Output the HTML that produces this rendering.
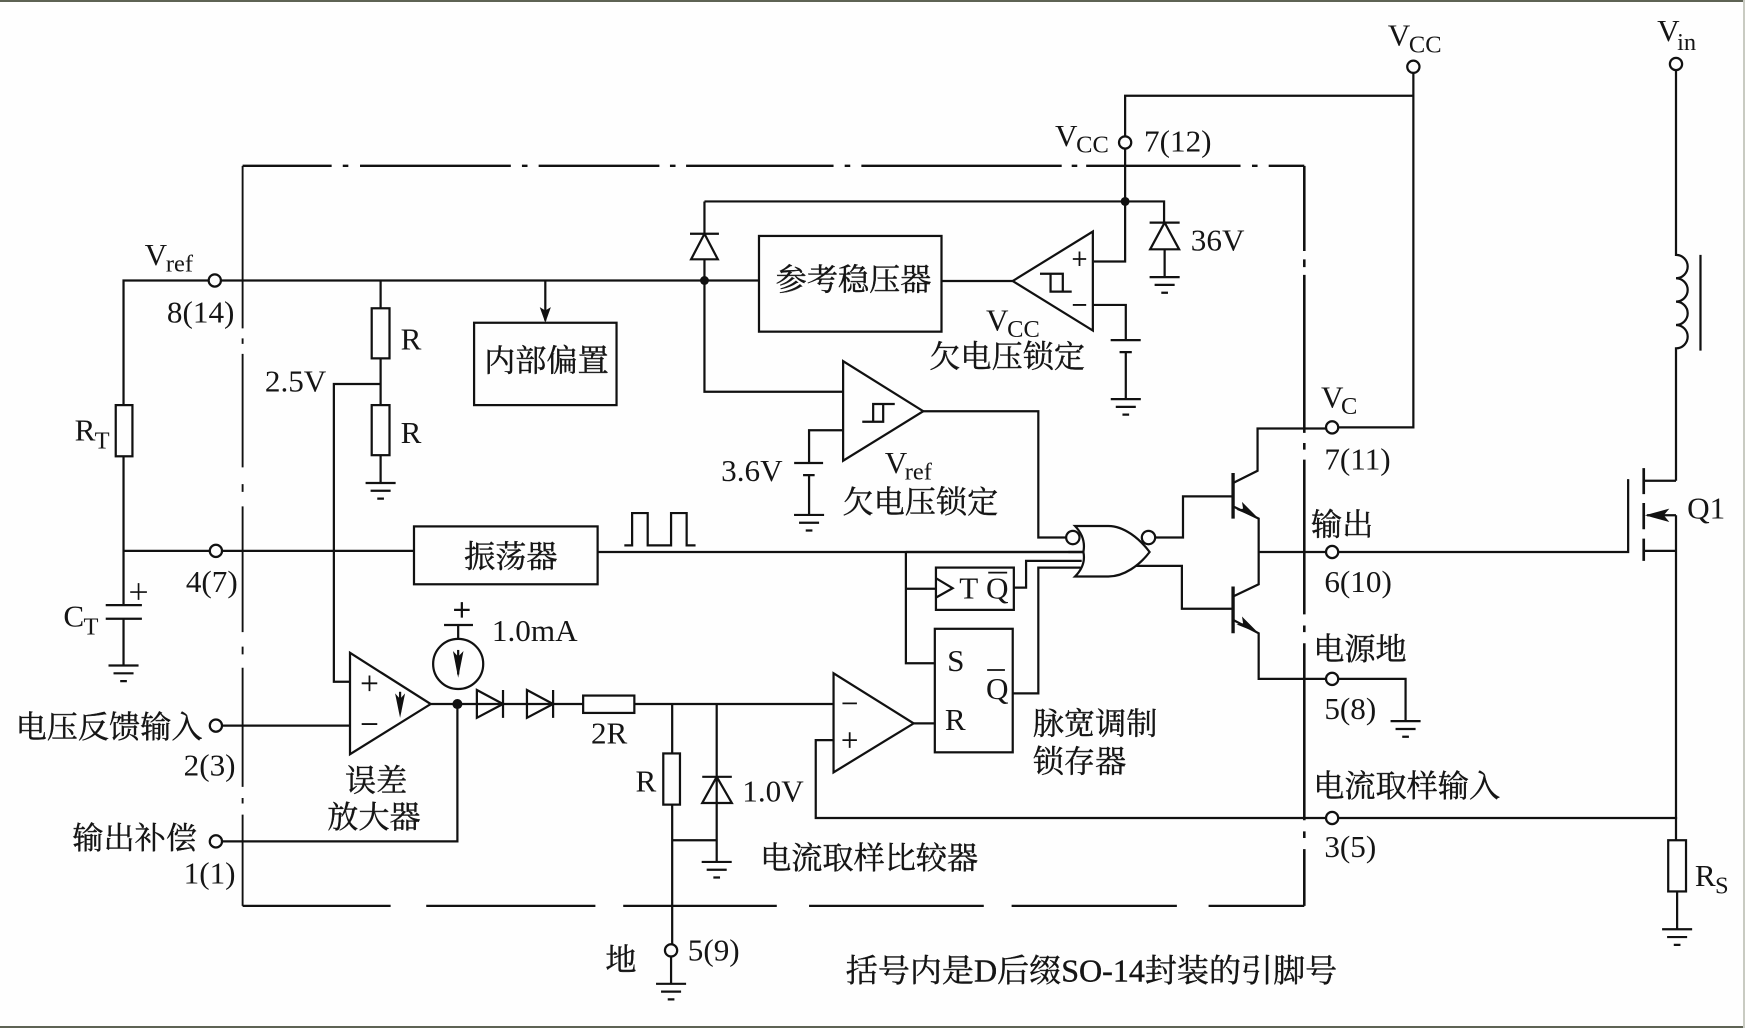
<!DOCTYPE html>
<html><head><meta charset="utf-8"><style>
html,body{margin:0;padding:0;background:#fefefe}
body{width:1745px;height:1028px;overflow:hidden;position:relative}
svg{position:absolute;left:0;top:0}
.b{position:absolute}
text{font-family:"Liberation Serif","Noto Serif CJK SC",serif;font-size:28px;fill:#151515}
.c{font-family:"Liberation Serif","Noto Serif CJK SC",serif;font-size:28px;stroke:#151515;stroke-width:.35}
.s{font-size:22px}
</style></head><body>
<svg width="1745" height="1028" viewBox="0 0 1568 923.7" xmlns="http://www.w3.org/2000/svg">
<defs>
<g id="g" fill="none" stroke="#111" stroke-width="2"><path d="M-13.5,0H13.5M-9,7H9M-3,14H3"/></g>
</defs>
<g fill="none" stroke="#111" stroke-width="2">
<!-- dash-dot enclosure -->
<path d="M218,149H298M308,149H313M323.500,149H459M469,149H474M484,149H592.500M602,149H607M616.500,149H749M759,149H764M774,149H954M963,149H968M976,149H1114.700M1125,149H1130M1140,149H1172" stroke-width="2.200"/>
<path d="M218,814H351M383,814H535M560,814H698M727,814H884M909,814H1057.500M1086,814H1172"/>
<path d="M218,149V295M218,304V309M218,318V420M218,435V442M218,455V568M218,581V588M218,600V707M218,717V722M218,732V814" stroke-width="1.700"/>
<path d="M1172,149V225.500M1172,233V240M1172,247V389M1172,398V404M1172,413V552M1172,562V568M1172,578V737M1172,747V753M1172,763V814" stroke-width="2.300"/>
<!-- VCC -->
<path d="M1270,65V384H1202M1270,86H1011V123M1011,133V235H983"/>
<path d="M633,181H1046V200"/>
<path d="M1033,200H1060M1046.5,200L1033.5,224H1059.5ZM1046.5,224V248.6"/>
<use href="#g" x="1046.5" y="249"/>
<!-- left diode -->
<path d="M633,181V210M620,210H646M633,210L621,233H645ZM633,233V352H757.5"/>
<!-- Vref line -->
<path d="M198,252H682M188,252H111V364M111,410V543.7"/>
<rect x="104" y="364" width="15" height="46"/>
<path d="M111,495H188M199,495H372"/>
<path d="M95,543.7H127.5M95,556H127.5M111,556V598"/>
<use href="#g" x="111" y="598"/>
<path d="M117,532H132M124.500,524V539" stroke-width="1.5"/>
<!-- divider -->
<path d="M342,252V277M342,322V364M342,409V434M342,345H300V612.600H314.500"/>
<rect x="334" y="277" width="16" height="45"/>
<rect x="334" y="364" width="16" height="45"/>
<use href="#g" x="342" y="434"/>
<!-- internal bias -->
<path d="M490,252V288"/>
<rect x="426" y="290" width="128" height="74"/>
<!-- ref reg -->
<rect x="682" y="212" width="164" height="86"/>
<path d="M846,252.500H910"/>
<path d="M982,208V297L910,252.500Z"/>
<path d="M964,232.700H976M970,226V239M964,274H976" stroke-width="1.6"/>
<path d="M934.500,246H955V262H963M944,246V262H955"/>
<path d="M982,274H1011.600V305.600M998,305.600H1025M1006,316.400H1017M1011.600,316.400V358.600"/>
<use href="#g" x="1011.600" y="358.600"/>
<!-- Vref UVLO -->
<path d="M757.600,324.500V414L829.600,369.500Z"/>
<path d="M774.800,379H793.600V363H804M784.600,379V363H793.600"/>
<path d="M757.600,386.600H727V416M713.600,416H739.600M721.600,426.900H732M727,426.900V462.700"/>
<use href="#g" x="727" y="462.700"/>
<path d="M829.600,369.500H933V483H958.500"/>
<!-- oscillator -->
<rect x="372" y="473" width="165" height="52"/>
<path d="M537,496H973"/>
<path d="M561,490H568V461H582V490H603V461H617V490H625"/>
<path d="M814,496V596H840M814,529H841"/>
<!-- gate -->
<path d="M966,472.600Q976,483 973.500,496Q976,508 966,518H996C1010,518 1024,508 1033,496C1024,484 1010,472.600 996,472.600Z" fill="#fefefe"/>
<path d="M973,496H960" />
<circle cx="964" cy="483" r="6" fill="#fefefe"/>
<circle cx="1032" cy="483" r="6" fill="#fefefe"/>
<path d="M814,496H973M911,528H922V504H972M910,623H933V510H971"/>
<!-- T box -->
<rect x="841" y="510" width="70" height="38"/>
<path d="M841,519.500L856,528.500L841,537"/>
<!-- SR -->
<rect x="840" y="565" width="70" height="111"/>
<path d="M821,650H840"/>
<path d="M749,605V694L821,650Z"/>
<path d="M757,632H770M757,665H770M763.500,658V672" stroke-width="1.6"/>
<path d="M570,632.600H749M749,665H733V735H1192M1202,735H1507"/>
<!-- transistors -->
<path d="M1038,483H1063V446H1108M1021,508.500H1062V547H1108"/>
<path d="M1108,425V466M1108,527V569" stroke-width="3"/>
<path d="M1108,434L1130,423V385H1192"/>
<path d="M1108,455L1131,466V525L1108,536M1108,557L1131,569V610H1192M1131,496H1192"/>
<path d="M1202,496H1463V430.500"/>
<path d="M1202,610H1263V648"/>
<use href="#g" x="1263" y="648"/>
<!-- MOSFET -->
<path d="M1477,420.600V444M1477,452V475.500M1477,484V504" stroke-width="2.400"/>
<path d="M1477,432H1506M1506,463V463H1480M1477,495H1506M1506,463V755"/>
<!-- coil and Vin -->
<path d="M1506,62.500V229A10.500,10.500 0 0 1 1506,250A10.500,10.500 0 0 1 1506,271A10.500,10.500 0 0 1 1506,292A10.500,10.500 0 0 1 1506,313V432"/>
<path d="M1528,229V315"/>
<rect x="1499" y="755" width="16" height="46"/>
<path d="M1507,801V835"/>
<use href="#g" x="1507" y="835"/>
<!-- error amp -->
<path d="M314.500,586.600V677.700L387,632.600Z"/>
<path d="M325,614H339M332,607V621M325,650.600H339" stroke-width="1.600"/>
<path d="M199,652H314.500"/>
<path d="M359.500,621.600V640"/>
<circle cx="411.700" cy="596.600" r="22.500"/>
<path d="M411.700,574V561.600M399,561.600H425M415,541V555M408,548H422"/>
<path d="M411.700,584V606"/>
<path d="M387,632.600H524M411,632.600V756H199"/>
<path d="M428.500,620L452,632.600L428.500,645ZM452,620V645M473.500,620L497,632.600L473.500,645ZM497,620V645"/>
<rect x="524" y="625" width="46" height="15.600"/>
<path d="M604,632.600V677M604,723V848"/>
<rect x="596" y="677" width="15" height="46"/>
<path d="M644,632.600V774.500M604,755H644M631,698H657.600M644,698L631,721.500H657.600Z"/>
<use href="#g" x="644" y="774.500"/>
<path d="M603,859V884"/>
<use href="#g" x="603" y="884"/>
<!-- pin circles -->
<g fill="#fefefe">
<circle cx="1270" cy="60" r="5.500"/><circle cx="1506" cy="57.500" r="5.500"/>
<circle cx="1011" cy="128" r="5.500"/><circle cx="193" cy="252" r="5.500"/>
<circle cx="194" cy="495" r="5.500"/><circle cx="194" cy="652" r="5.500"/>
<circle cx="194" cy="756" r="5.500"/><circle cx="1197" cy="384" r="5.500"/>
<circle cx="1197" cy="496" r="5.500"/><circle cx="1197" cy="610" r="5.500"/>
<circle cx="1197" cy="735" r="5.500"/><circle cx="603" cy="854" r="5.500"/>
</g>
<path d="M888,514.500H905" stroke-width="1.600"/>
<path d="M887,602H903" stroke-width="1.600"/>
</g>
<!-- dots and arrowheads -->
<g fill="#111">
<circle cx="1011" cy="181" r="4"/><circle cx="633" cy="252" r="4"/><circle cx="411" cy="632.600" r="4.500"/>
<path d="M490,290L485,276L490,279L495,276Z"/>
<path d="M359.500,645L355,623L359.500,628L364,623Z"/>
<path d="M411.700,609L407,585L411.700,590L416.500,585Z"/>
<path d="M1131,466L1111,458L1117,457L1116,451Z"/>
<path d="M1131,569L1111,561L1117,560L1116,554Z"/>
<path d="M1478,463L1500,457L1495,463L1500,469Z"/>
</g>
<!-- latin labels -->
<text x="1247" y="41">V</text><text x="1266" y="47" class="s">CC</text>
<text x="1489" y="37">V</text><text x="1507" y="45" class="s">in</text>
<text x="948" y="131">V</text><text x="967" y="137" class="s">CC</text>
<text x="1028" y="136">7(12)</text>
<text x="1070" y="225">36V</text>
<text x="130" y="238">V</text><text x="149" y="244" class="s">ref</text>
<text x="150" y="290">8(14)</text>
<text x="360" y="314">R</text><text x="360" y="398">R</text>
<text x="238" y="352">2.5V</text>
<text x="67" y="396">R</text><text x="85" y="403" class="s">T</text>
<text x="57" y="563">C</text><text x="75" y="570" class="s">T</text>
<text x="167" y="532">4(7)</text>
<text x="648" y="432">3.6V</text>
<text x="795" y="425">V</text><text x="813" y="431" class="s">ref</text>
<text x="886" y="297">V</text><text x="905" y="303" class="s">CC</text>
<text x="1187" y="366">V</text><text x="1205" y="372" class="s">C</text>
<text x="1190" y="422">7(11)</text><text x="1190" y="532">6(10)</text>
<text x="1190" y="646">5(8)</text><text x="1190" y="770">3(5)</text>
<text x="1516" y="466">Q1</text>
<text x="1523" y="796">R</text><text x="1541" y="803" class="s">S</text>
<text x="442" y="576">1.0mA</text>
<text x="531" y="668">2R</text><text x="571" y="711">R</text>
<text x="667" y="720">1.0V</text><text x="618" y="863">5(9)</text>
<text x="165" y="697">2(3)</text><text x="165" y="794">1(1)</text>
<text x="851" y="603">S</text><text x="849" y="656">R</text><text x="886" y="628">Q</text>
<text x="862" y="538">T</text><text x="886" y="538">Q</text>
<!-- CJK labels -->
<text class="c" x="435" y="334">内部偏置</text>
<text class="c" x="697" y="261">参考稳压器</text>
<text class="c" x="417" y="510">振荡器</text>
<text class="c" x="757" y="461">欠电压锁定</text>
<text class="c" x="835" y="330">欠电压锁定</text>
<text class="c" x="1178" y="481">输出</text>
<text class="c" x="1180" y="593">电源地</text>
<text class="c" x="1180" y="716">电流取样输入</text>
<text class="c" x="683" y="781">电流取样比较器</text>
<text class="c" x="544" y="872">地</text>
<text class="c" x="928" y="660">脉宽调制</text>
<text class="c" x="928" y="694">锁存器</text>
<text class="c" x="310" y="711">误差</text>
<text class="c" x="294" y="744">放大器</text>
<text class="c" x="14" y="663">电压反馈输入</text>
<text class="c" x="65" y="763">输出补偿</text>
<text class="c" x="760" y="882" style="font-size:28.800px">括号内是D后缀SO-14封装的引脚号</text>
</svg>
<div class="b" style="left:0;top:0;width:1745px;height:2px;background:#5e6354"></div>
<div class="b" style="left:0;top:1026px;width:1745px;height:2px;background:#5e6354"></div>
<div class="b" style="left:1743px;top:0;width:2px;height:1028px;background:#c9cbc2"></div>
</body></html>
